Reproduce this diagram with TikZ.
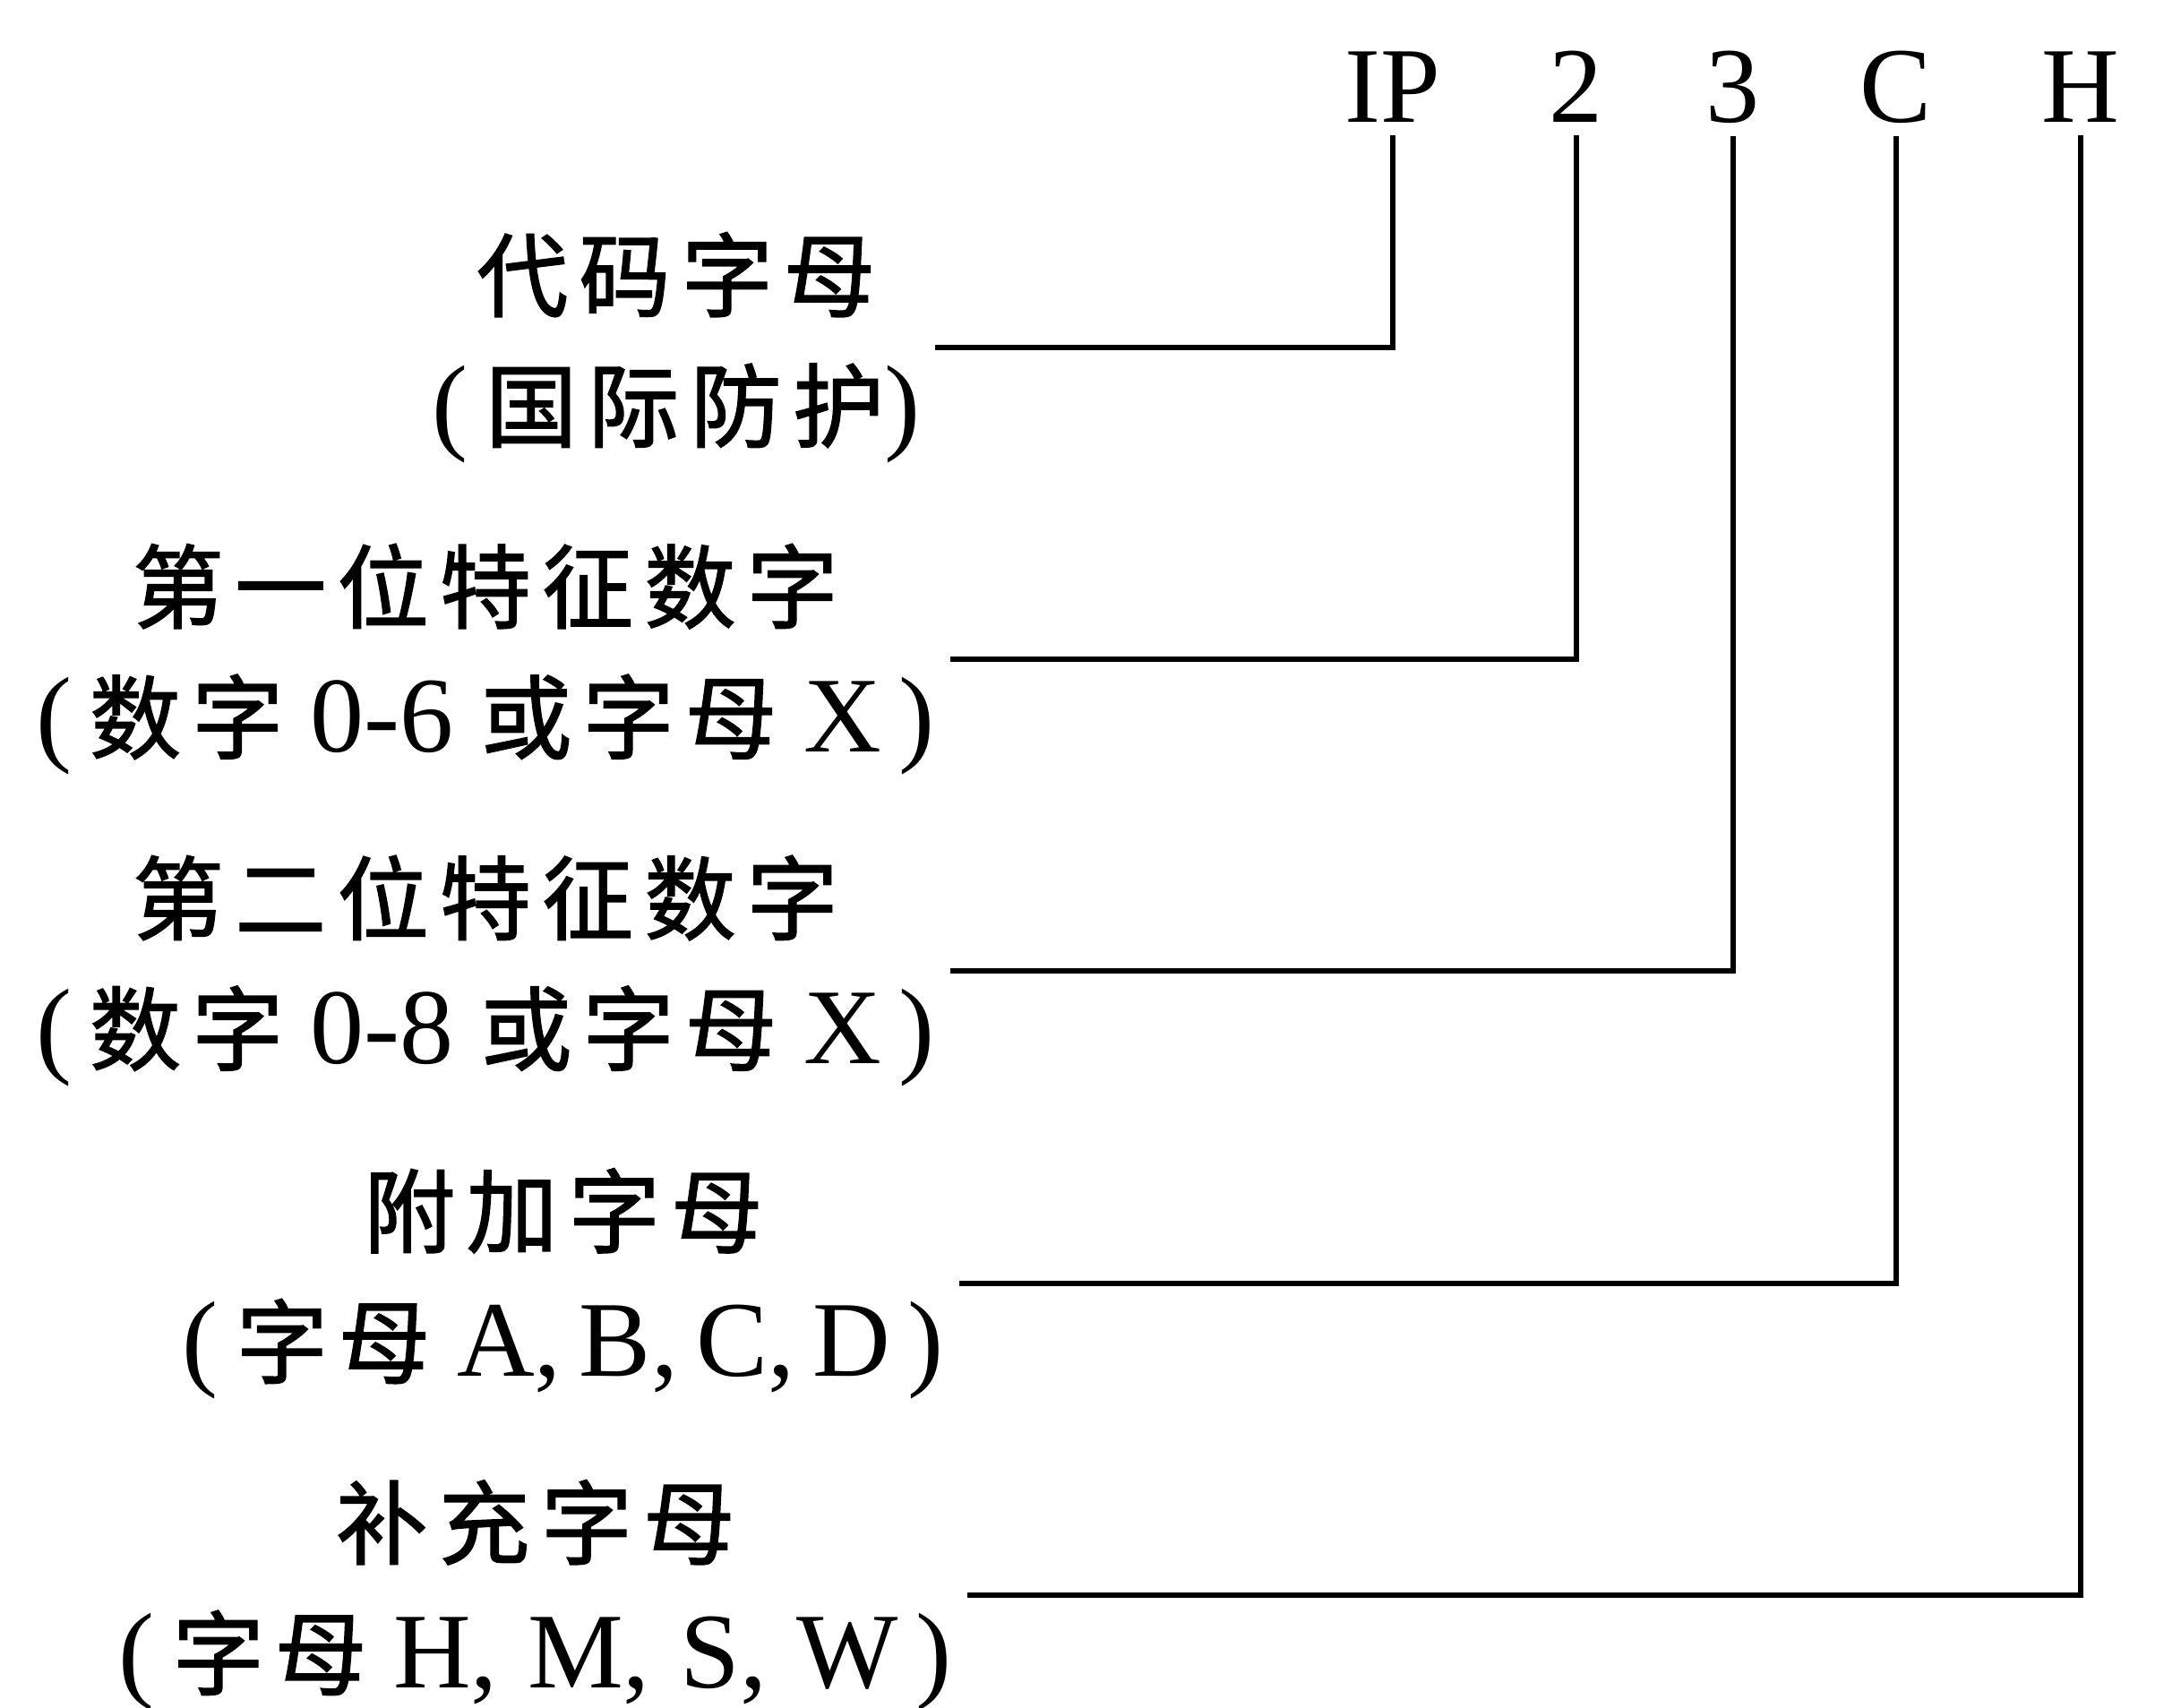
\documentclass[tikz,border=0pt]{standalone}
\usepackage{fontspec}
\setmainfont{Liberation Serif}
\newfontfamily\cjk{Noto Sans CJK SC}[Scale=0.85, LetterSpace=12, FakeBold=1.5]
\usepackage{tikz}

\tikzset{
    digit/.style={inner sep=0pt, outer sep=0.09cm, font=\fontsize{22}{22}\selectfont},
    desc/.style={align=center, inner sep=0.1cm, font=\fontsize{22}{26.7}\selectfont},
    lead/.style={line width=1.1pt}
}

\begin{document}
\begin{tikzpicture}
        \useasboundingbox (0,0) rectangle (15.68,-12.28);
        % code parts on top
        \node (ip) [digit, anchor=base] at (10.01,-0.88) {IP};
        \node (one) [digit, anchor=base] at (11.33,-0.88) {2};
        \node (two) [digit, anchor=base] at (12.46,-0.88) {3};
        \node (add) [digit, anchor=base] at (13.63,-0.88) {C};
        \node (sup) [digit, anchor=base] at (14.96,-0.88) {H};

        % descriptions
        \node (code) [desc] at (4.86,-2.50) {{\cjk 代码字母}\\(\,{\cjk 国际防护})};
        \node (first) [desc] at (3.49,-4.74) {{\cjk 第一位特征数字}\\(\,{\cjk 数字}\ 0-6\ {\cjk 或字母}\ X\,)};
        \node (second) [desc] at (3.49,-6.98) {{\cjk 第二位特征数字}\\(\,{\cjk 数字}\ 0-8\ {\cjk 或字母}\ X\,)};
        \node (extra) [desc] at (4.05,-9.23) {{\cjk 附加字母}\\(\,{\cjk 字母}\ A,\,B,\,C,\,D\,)};
        \node (suppl) [desc] at (3.85,-11.47) {{\cjk 补充字母}\\(\,{\cjk 字母}\ H,\;M,\;S,\;W\,)};

        \draw[lead] (code.east) -| (ip.south);
        \draw[lead] (first.east) -| (one.south);
        \draw[lead] (second.east) -| (two.south);
        \draw[lead] (extra.east) -| (add.south);
        \draw[lead] (suppl.east) -| (sup.south);
    \end{tikzpicture}
\end{document}
